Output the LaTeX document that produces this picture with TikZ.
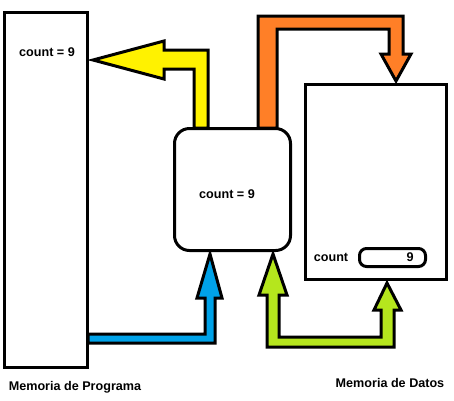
\documentclass[tikz,border=0pt]{standalone}
\usepackage{fontspec}
\setmainfont{Liberation Sans}
\begin{document}
\begin{tikzpicture}[x=1pt,y=-1pt,line width=3pt,
  membox/.style={draw,rectangle,inner sep=0pt},
  txt/.style={inner sep=0pt,font=\fontsize{12.6}{14}\selectfont\bfseries},
  blockarrow/.style={draw,line join=miter,miter limit=10}]
  \useasboundingbox (0,0) rectangle (454,400);

  % block arrows
  \filldraw[blockarrow,fill={rgb,255:red,255;green,242;blue,0}]
    (93,60) -- (164,41) -- (164,50) -- (208,50) -- (208,128) -- (194,128)
    -- (194,69) -- (164,69) -- (164,79) -- cycle;
  \filldraw[blockarrow,fill={rgb,255:red,255;green,127;blue,39}]
    (258,128) -- (258,16) -- (403,16) -- (403,54) -- (411,54) -- (396,81)
    -- (381,54) -- (389,54) -- (389,29) -- (277,29) -- (277,128) -- cycle;
  \filldraw[blockarrow,fill={rgb,255:red,0;green,162;blue,232}]
    (88,334) -- (205,334) -- (205,298) -- (197,298) -- (210,254) -- (222,298)
    -- (215,298) -- (215,343) -- (88,343) -- cycle;
  \filldraw[blockarrow,fill={rgb,255:red,181;green,230;blue,29}]
    (273,254) -- (287,295) -- (279,295) -- (279,337) -- (381,337) -- (381,310)
    -- (374,310) -- (387,283) -- (401,310) -- (394,310) -- (394,347)
    -- (267,347) -- (267,295) -- (259,295) -- cycle;

  % memories and processor
  \node[membox,minimum width=83pt,minimum height=355pt] (progmem) at (46,190) {};
  \node[membox,fill=white,rounded corners=15pt,minimum width=116pt,minimum height=122pt] (cpu) at (232.5,189.5) {};
  \node[membox,minimum width=141pt,minimum height=195pt] (datamem) at (376,182) {};
  \node[membox,rounded corners=7pt,minimum width=66pt,minimum height=18pt] (cntcell) at (392.5,257.5) {};

  % texts
  \node[txt] (progcount) at (47,52) {count = 9};
  \node[txt] (cpucount) at (227,194) {count = 9};
  \node[txt] (cntname) at (331,257) {count};
  \node[txt,anchor=east] (cntval) at (415,257) {9};
  \node[txt] (progname) at (75,387) {Memoria de Programa};
  \node[txt] (dataname) at (390,383) {Memoria de Datos};
\end{tikzpicture}
\end{document}
